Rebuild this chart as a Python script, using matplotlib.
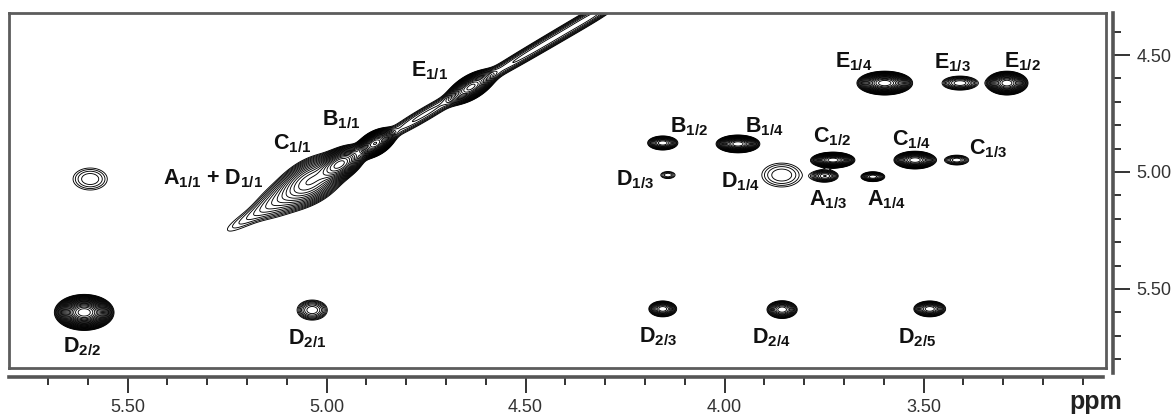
import numpy as np
import matplotlib.pyplot as plt
from matplotlib.ticker import MultipleLocator, FormatStrFormatter

plt.rcParams['font.family'] = ['Liberation Sans', 'DejaVu Sans']
plt.rcParams['mathtext.fontset'] = 'custom'
plt.rcParams['mathtext.rm'] = 'Liberation Sans:bold'
plt.rcParams['mathtext.it'] = 'Liberation Sans:bold'
plt.rcParams['mathtext.bf'] = 'Liberation Sans:bold'
plt.rcParams['mathtext.default'] = 'rm'

# cross peaks (F2 = x, F1 = y, ppm), outer half widths (ppm), contour depth
cross_f2 = [3.597, 3.408, 3.290, 4.155, 3.966, 3.727, 3.747, 3.627, 3.521,
            3.416, 4.142, 3.856, 5.594, 5.609, 5.036, 4.155, 3.855, 3.484]
cross_f1 = [4.620, 4.620, 4.620, 4.876, 4.880, 4.949, 5.017, 5.020, 4.949,
            4.949, 5.013, 5.013, 5.030, 5.600, 5.590, 5.585, 5.588, 5.585]
cross_wx = [0.070, 0.045, 0.053, 0.038, 0.055, 0.055, 0.033, 0.030, 0.053,
            0.030, 0.018, 0.050, 0.043, 0.075, 0.038, 0.035, 0.038, 0.040]
cross_wy = [0.051, 0.030, 0.051, 0.030, 0.038, 0.034, 0.026, 0.021, 0.038,
            0.021, 0.015, 0.051, 0.047, 0.077, 0.043, 0.034, 0.038, 0.034]
cross_depth = [20, 9, 18, 12, 18, 18, 9, 10, 16, 7, 4, 4, 4, 24, 8, 12, 12, 12]

# diagonal: position, half length along diagonal, half width across (ppm), depth
diag_pos = [5.200, 5.125, 5.040, 4.965, 4.878, 4.795, 4.715, 4.637, 4.555,
            4.470, 4.390, 4.310]
diag_len = [0.048, 0.043, 0.087, 0.061, 0.048, 0.061, 0.061, 0.058, 0.061,
            0.061, 0.061, 0.061]
diag_wid = [0.026, 0.060, 0.110, 0.074, 0.060, 0.020, 0.020, 0.060, 0.022,
            0.022, 0.024, 0.026]
diag_depth = [2, 4, 14, 18, 22, 2, 2, 18, 3, 3, 3, 4]

labels = [r"E$_{1/4}$", r"E$_{1/3}$", r"E$_{1/2}$", r"B$_{1/2}$", r"B$_{1/4}$",
          r"C$_{1/2}$", r"C$_{1/4}$", r"C$_{1/3}$", r"D$_{1/3}$", r"D$_{1/4}$",
          r"A$_{1/3}$", r"A$_{1/4}$", r"E$_{1/1}$", r"B$_{1/1}$", r"C$_{1/1}$",
          r"A$_{1/1}$ + D$_{1/1}$", r"D$_{2/2}$", r"D$_{2/1}$", r"D$_{2/3}$",
          r"D$_{2/4}$", r"D$_{2/5}$"]
label_f2 = [3.674, 3.428, 3.250, 4.089, 3.901, 3.730, 3.531, 3.338, 4.225,
            3.959, 3.740, 3.592, 4.742, 4.964, 5.087, 5.285, 5.614, 5.049,
            4.167, 3.881, 3.516]
label_f1 = [4.530, 4.534, 4.530, 4.807, 4.807, 4.850, 4.863, 4.900, 5.034,
            5.043, 5.120, 5.120, 4.567, 4.778, 4.880, 5.030, 5.748, 5.714,
            5.705, 5.709, 5.709]

W, H = 1176, 416
fig = plt.figure(figsize=(W / 100, H / 100), dpi=100)

xlim = (5.798, 3.041)
ylim = (5.8376, 4.3205)
ax = fig.add_axes([9 / W, (H - 368) / H, (1106 - 9) / W, (368 - 13) / H])

# px per ppm on screen, used to orient the diagonal ridge
sx = (1106 - 9) / (xlim[0] - xlim[1])
sy = (368 - 13) / (ylim[0] - ylim[1])
nrm = np.hypot(sx, sy)

f = 1.18
xs = np.linspace(5.82, 3.02, 1500)
ys = np.linspace(4.28, 5.86, 560)
X, Y = np.meshgrid(xs, ys)
Z = np.zeros_like(X)
for x0, y0, wx, wy, n in zip(cross_f2, cross_f1, cross_wx, cross_wy, cross_depth):
    k = np.sqrt(2 * n * np.log(f))
    Z += f ** n * np.exp(-0.5 * ((X - x0) / (wx / k)) ** 2 - 0.5 * ((Y - y0) / (wy / k)) ** 2)
for d0, ln, wd, n in zip(diag_pos, diag_len, diag_wid, diag_depth):
    k = np.sqrt(2 * n * np.log(f))
    dx = (X - d0) * sx
    dy = (Y - d0) * sy
    s = (dx * sx + dy * sy) / nrm
    t = (-dx * sy + dy * sx) / nrm
    s0 = ln * nrm / k
    t0 = wd * sx * sy / nrm / k
    Z += f ** n * np.exp(-0.5 * (s / s0) ** 2 - 0.5 * (t / t0) ** 2)

levels = f ** np.arange(0, 40)
ax.contour(X, Y, Z, levels=levels, colors='black', linewidths=0.65)

for txt, lx, ly in zip(labels, label_f2, label_f1):
    ax.text(lx, ly, txt, ha='center', va='center', fontsize=15.5,
            fontweight='bold', color='#111111')

ax.set_xlim(*xlim)
ax.set_ylim(*ylim)
ax.set_xticks([])
ax.set_yticks([])
for sp in ax.spines.values():
    sp.set_linewidth(2.0)
    sp.set_color('#5c5c5c')

# separate ppm scale below
axb = fig.add_axes([9 / W, (H - 377) / H, (1103 - 9) / W, 0.0001])
axb.set_xlim(5.798, 3.049)
axb.patch.set_visible(False)
for side in ['top', 'left', 'right']:
    axb.spines[side].set_visible(False)
axb.spines['bottom'].set_linewidth(2.6)
axb.spines['bottom'].set_color('#555555')
axb.set_yticks([])
axb.xaxis.set_major_locator(MultipleLocator(0.5))
axb.xaxis.set_minor_locator(MultipleLocator(0.1))
axb.xaxis.set_major_formatter(FormatStrFormatter('%.2f'))
axb.tick_params(axis='x', which='major', length=11.5, width=1.4, pad=4,
                labelsize=13, colors='#333333')
axb.tick_params(axis='x', which='minor', length=5.5, width=1.4, colors='#333333')

# separate ppm scale on the right
axr = fig.add_axes([1113 / W, (H - 373) / H, 0.0001, (373 - 13) / H])
axr.set_ylim(5.859, 4.3205)
axr.patch.set_visible(False)
for side in ['top', 'left', 'bottom']:
    axr.spines[side].set_visible(False)
axr.spines['right'].set_linewidth(2.6)
axr.spines['right'].set_color('#555555')
axr.set_xticks([])
axr.yaxis.tick_right()
axr.yaxis.set_major_locator(MultipleLocator(0.5))
axr.yaxis.set_minor_locator(MultipleLocator(0.1))
axr.yaxis.set_major_formatter(FormatStrFormatter('%.2f'))
axr.tick_params(axis='y', which='major', length=12, width=1.4, pad=5,
                labelsize=13, colors='#333333')
axr.tick_params(axis='y', which='minor', length=5.5, width=1.4, colors='#333333')

fig.text(1096 / W, 1 - 402 / H, 'ppm', ha='center', va='center',
         fontsize=18, fontweight='bold', color='#222222')

fig.savefig('out.png', dpi=100)
